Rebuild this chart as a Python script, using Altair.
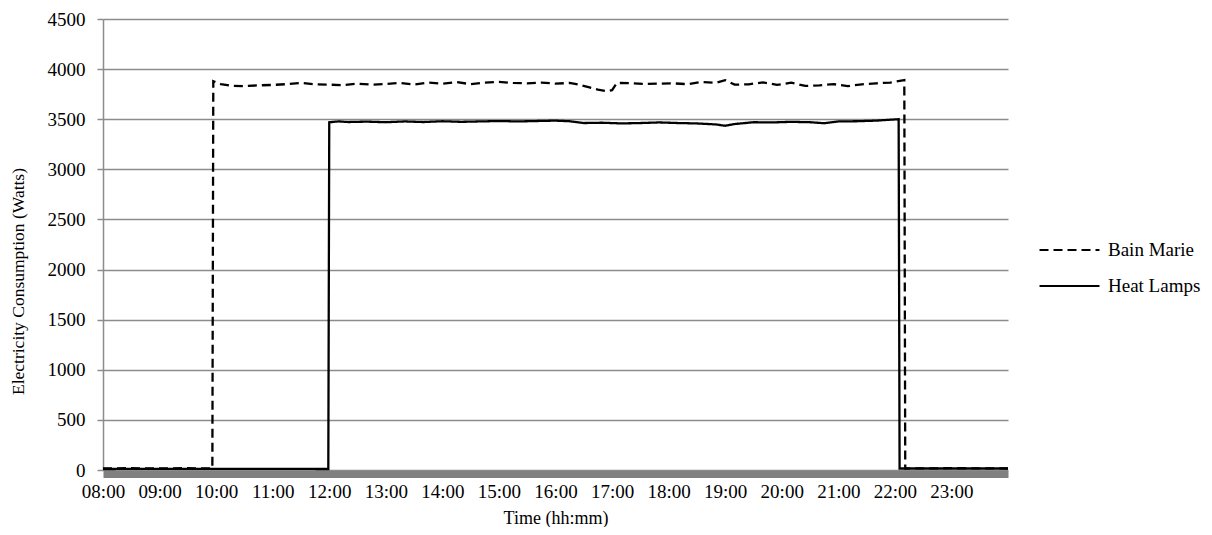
import altair as alt
import pandas as pd

# ---- data ----
bain_times = ["08:00", "08:30", "09:00", "09:30", "09:56", "09:57", "10:05", "10:15", "10:30", "10:45",
              "11:00", "11:15", "11:30", "11:45", "12:00", "12:15", "12:30", "12:45", "13:00", "13:15",
              "13:30", "13:45", "14:00", "14:15", "14:30", "14:45", "15:00", "15:15", "15:30", "15:45",
              "16:00", "16:15", "16:25", "16:35", "16:45", "16:55", "17:00", "17:05", "17:20", "17:35",
              "17:50", "18:05", "18:20", "18:35", "18:50", "19:00", "19:10", "19:25", "19:40", "19:55",
              "20:10", "20:25", "20:40", "20:55", "21:10", "21:25", "21:40", "21:55", "22:10", "22:11",
              "23:00", "24:00"]
bain_watts = [15, 18, 15, 18, 15, 3880, 3850, 3835, 3830, 3838,
              3842, 3850, 3862, 3848, 3845, 3840, 3855, 3845, 3852, 3862,
              3845, 3866, 3855, 3870, 3850, 3866, 3872, 3862, 3858, 3866,
              3855, 3862, 3845, 3820, 3795, 3780, 3790, 3862, 3860, 3852,
              3855, 3858, 3850, 3872, 3862, 3890, 3845, 3848, 3868, 3842,
              3865, 3832, 3838, 3850, 3830, 3848, 3858, 3866, 3890, 15,
              18, 15]

heat_times = ["08:00", "10:00", "11:59", "12:00", "12:10", "12:20", "12:40", "13:00", "13:20", "13:40",
              "14:00", "14:20", "14:40", "15:00", "15:20", "15:40", "16:00", "16:15", "16:30", "16:50",
              "17:10", "17:30", "17:50", "18:10", "18:30", "18:50", "19:00", "19:10", "19:30", "19:50",
              "20:10", "20:30", "20:45", "21:00", "21:20", "21:40", "22:00", "22:04", "22:05", "23:00",
              "24:00"]
heat_watts = [10, 12, 10, 3470, 3478, 3472, 3476, 3470, 3478, 3472,
              3480, 3474, 3478, 3482, 3478, 3482, 3486, 3480, 3462, 3465,
              3458, 3462, 3468, 3462, 3458, 3448, 3435, 3452, 3470, 3468,
              3474, 3470, 3460, 3478, 3480, 3486, 3498, 3500, 15, 15,
              15]

series_names = ["Bain Marie", "Heat Lamps"]
hour_ticks = list(range(8, 24))
y_ticks = list(range(0, 4501, 500))


def to_hours(s):
    h, m = s.split(":")
    return int(h) + int(m) / 60.0


rows = []
for t, w in zip(bain_times, bain_watts):
    rows.append({"series": series_names[0], "t": to_hours(t), "w": w})
for t, w in zip(heat_times, heat_watts):
    rows.append({"series": series_names[1], "t": to_hours(t), "w": w})
df = pd.DataFrame(rows)

FONT = "Liberation Serif"
LABEL_SIZE = 19

chart = (
    alt.Chart(df)
    .mark_line(color="black", strokeWidth=2.3)
    .encode(
        x=alt.X(
            "t:Q",
            scale=alt.Scale(domain=[8, 24], nice=False, zero=False),
            axis=alt.Axis(
                values=hour_ticks,
                labelExpr="(datum.value < 10 ? '0' : '') + datum.value + ':00'",
                labelOverlap=False,
                labelFlush=False,
                title="Time (hh:mm)",
                grid=False,
                ticks=False,
                offset=4,
                domainColor="#808080",
                domainWidth=7,
                labelPadding=8,
                titlePadding=8,
            ),
        ),
        y=alt.Y(
            "w:Q",
            scale=alt.Scale(domain=[0, 4500], nice=False),
            axis=alt.Axis(
                values=y_ticks,
                format="d",
                title="Electricity Consumption (Watts)",
                grid=True,
                gridColor="#8c8c8c",
                gridWidth=1.5,
                domainColor="#8c8c8c",
                domainWidth=1.5,
                tickColor="#8c8c8c",
                tickWidth=1.5,
                tickSize=6,
                labelPadding=12,
                labelOverlap=False,
                labelFlush=False,
                titleFontSize=17.5,
                titleAngle=-90,
                titleX=-85,
                titleY=262,
                titleAlign="center",
                titleBaseline="middle",
            ),
        ),
        strokeDash=alt.StrokeDash(
            "series:N",
            scale=alt.Scale(domain=series_names, range=[[9, 5], [1, 0]]),
            legend=alt.Legend(
                title=None,
                orient="none",
                legendX=935,
                legendY=214,
                symbolType="stroke",
                symbolSize=3600,
                symbolStrokeWidth=2.2,
                symbolStrokeColor="black",
                labelOffset=7,
                clipHeight=34,
                rowPadding=2,
            ),
        ),
        detail="series:N",
        order="t:Q",
    )
    .properties(
        width=905,
        height=451,
        background="white",
        autosize=alt.AutoSizeParams(type="none"),
        padding={"left": 95, "top": 11, "right": 196, "bottom": 57},
    )
    .configure_view(stroke=None)
    .configure_axis(
        labelFont=FONT,
        labelFontSize=LABEL_SIZE,
        labelColor="black",
        titleFont=FONT,
        titleFontSize=18,
        titleFontWeight="normal",
        titleColor="black",
    )
    .configure_legend(
        labelFont=FONT,
        labelFontSize=19,
        labelColor="black",
    )
)

chart.save("out.html", embed_options={"renderer": "svg", "actions": False})
